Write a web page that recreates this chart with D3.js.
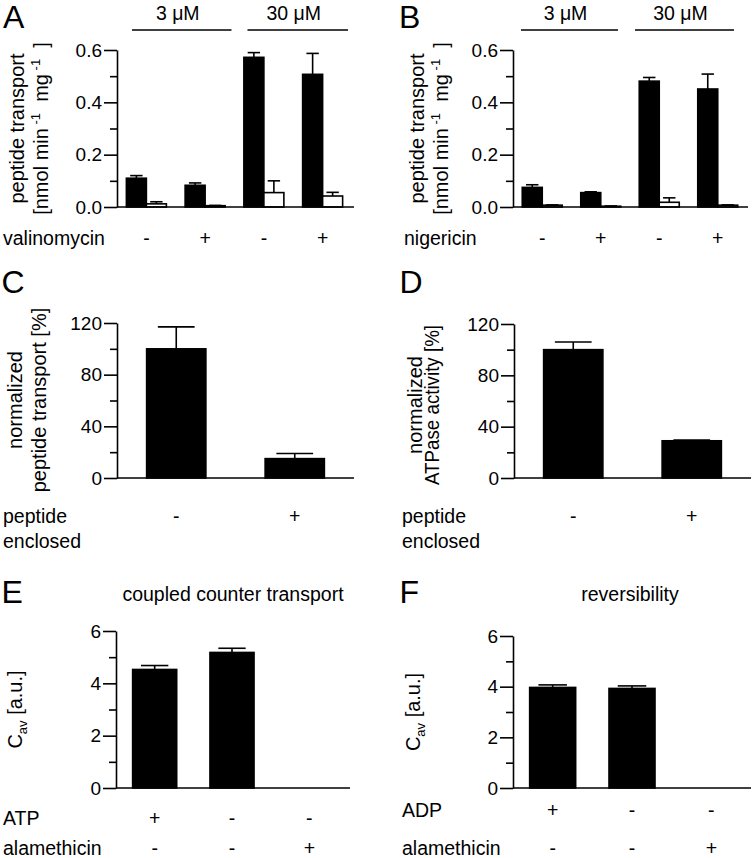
<!DOCTYPE html>
<html><head><meta charset="utf-8">
<script src="https://cdn.jsdelivr.net/npm/d3@7"></script>
<style>
body{margin:0;background:#fff}
svg{display:block}
text{font-family:"Liberation Sans",Arial,Helvetica,sans-serif;fill:#000;white-space:pre}
</style>
</head><body>
<svg id="chart" width="754" height="858"></svg>
<script>
// ---------------- DATA ----------------
const groupsAB = ["3 μM -", "3 μM +", "30 μM -", "30 μM +"];
const signsAB = ["-", "+", "-", "+"];
const concLabels = ["3 μM", "30 μM"];
const valA_black = [0.110, 0.083, 0.572, 0.507];
const errA_black = [0.010, 0.009, 0.018, 0.080];
const valA_white = [0.012, 0.005, 0.055, 0.042];
const errA_white = [0.008, 0.001, 0.045, 0.014];
const valB_black = [0.075, 0.055, 0.481, 0.451];
const errB_black = [0.010, 0.003, 0.014, 0.057];
const valB_white = [0.007, 0.003, 0.018, 0.007];
const errB_white = [0.001, 0.001, 0.017, 0.001];
const ticksAB = [0, 0.2, 0.4, 0.6];
const minorAB = [0.1, 0.3, 0.5];

const catsCD = ["-", "+"];
const valC = [100, 15];
const errC = [17, 4];
const valD = [100, 29];
const errD = [6, 0.5];
const ticksCD = [0, 40, 80, 120];
const minorCD = [20, 60, 100];

const catsEF = ["c1", "c2", "c3"];
const row1E = ["+", "-", "-"];
const row1F = ["+", "-", "-"];
const row2EF = ["-", "-", "+"];
const valE = [4.53, 5.18, 0];
const errE = [0.15, 0.16, 0];
const valF = [3.97, 3.93, 0];
const errF = [0.10, 0.10, 0];
const ticksEF = [0, 2, 4, 6];
const minorEF = [1, 3, 5];

// ---------------- DRAWING ----------------
const svg = d3.select("#chart");
const SW = 1.6;
const TICKFONT = 19;

function txt(g, x, y, s, size, anchor) {
  return g.append("text").attr("x", x).attr("y", y).attr("font-size", size)
    .attr("text-anchor", anchor || "start").text(s);
}

function yAxis(y, x0, major, minor, fmt) {
  const g = svg.append("g").attr("transform", `translate(${x0},0)`);
  g.call(d3.axisLeft(y).tickValues(major).tickSize(13).tickPadding(2).tickSizeOuter(0).tickFormat(fmt));
  g.attr("font-family", null).attr("font-size", null);
  g.selectAll("text").attr("font-size", TICKFONT).attr("fill", "#000");
  g.selectAll("path,line").attr("stroke", "#000").attr("stroke-width", SW);
  const m = svg.append("g").attr("transform", `translate(${x0},0)`);
  m.call(d3.axisLeft(y).tickValues(minor).tickSize(7).tickSizeOuter(0).tickFormat(""));
  m.select(".domain").remove();
  m.selectAll("line").attr("stroke", "#000").attr("stroke-width", SW);
}

function baseline(y, x0, x1) {
  svg.append("line").attr("x1", x0).attr("x2", x1).attr("y1", y(0)).attr("y2", y(0))
    .attr("stroke", "#000").attr("stroke-width", SW);
}

function bar(y, xl, w, v, e, fill) {
  if (v <= 0) return;
  const g = svg.append("g");
  g.append("rect").attr("x", xl).attr("y", y(v)).attr("width", w).attr("height", y(0) - y(v))
    .attr("fill", fill).attr("stroke", "#000").attr("stroke-width", SW);
  if (e > 0) {
    const cx = xl + w / 2, cw = w * 0.62;
    g.append("line").attr("x1", cx).attr("x2", cx).attr("y1", y(v)).attr("y2", y(v + e))
      .attr("stroke", "#000").attr("stroke-width", SW);
    g.append("line").attr("x1", cx - cw / 2).attr("x2", cx + cw / 2).attr("y1", y(v + e)).attr("y2", y(v + e))
      .attr("stroke", "#000").attr("stroke-width", SW);
  }
}

function rotLabel(x, cy, size, build) {
  const t = svg.append("text").attr("transform", `translate(${x},${cy}) rotate(-90)`)
    .attr("text-anchor", "middle").attr("font-size", size);
  build(t);
  return t;
}

function unitLabel(t) {
  t.append("tspan").text("[nmol min");
  t.append("tspan").attr("dy", -8).attr("font-size", 13).text(" -1");
  t.append("tspan").attr("dy", 8).text("  mg");
  t.append("tspan").attr("dy", -8).attr("font-size", 13).text(" -1");
  t.append("tspan").attr("dy", 8).text("  ]");
}

// ---- Panels A & B ----
function panelAB(cfg, black, eb, white, ew, drugName) {
  const x = d3.scaleBand().domain(groupsAB).range([cfg.x0, cfg.x1]).padding(0);
  const y = d3.scaleLinear().domain([0, 0.6]).range([cfg.yB, cfg.yT]);
  const bw = 20;
  groupsAB.forEach((gname, i) => {
    const c = x(gname) + x.bandwidth() / 2;
    bar(y, c - bw, bw, black[i], eb[i], "#000");
    bar(y, c, bw, white[i], ew[i], "#fff");
    txt(svg, c, 245, signsAB[i], 19.5, "middle");
  });
  baseline(y, cfg.x0, cfg.xEnd);
  yAxis(y, cfg.x0, ticksAB, minorAB, d3.format(".1f"));
  // concentration brackets
  concLabels.forEach((lab, k) => {
    const a = x(groupsAB[2 * k]) + cfg.br[k][0];
    const b = x(groupsAB[2 * k + 1]) + x.bandwidth() + cfg.br[k][1];
    svg.append("line").attr("x1", a).attr("x2", b).attr("y1", 30).attr("y2", 30)
      .attr("stroke", "#000").attr("stroke-width", 1.3);
    txt(svg, (a + b) / 2 - 4, 20, lab, 19.5, "middle");
  });
  txt(svg, cfg.lx, 245, drugName, 19.5);
  const cy = (cfg.yT + cfg.yB) / 2;
  rotLabel(cfg.l1, cy, 20, t => t.text("peptide transport"));
  rotLabel(cfg.l2, cy, 20, unitLabel);
  txt(svg, cfg.px, 28, cfg.letter, 32);
}

panelAB({x0: 117, x1: 352, xEnd: 354, yT: 50, yB: 207, br: [[15, -3], [13, -4]],
  lx: 3, l1: 24, l2: 48, px: 3, letter: "A"},
  valA_black, errA_black, valA_white, errA_white, "valinomycin");
panelAB({x0: 513, x1: 747, xEnd: 748, yT: 50, yB: 207, br: [[8, -12], [5, -13]],
  lx: 404, l1: 424, l2: 448, px: 399, letter: "B"},
  valB_black, errB_black, valB_white, errB_white, "nigericin");

// ---- Panels C & D ----
function panelCD(cfg, vals, errs) {
  const x = d3.scaleBand().domain(catsCD).range([cfg.x0, cfg.x1]).padding(0);
  const y = d3.scaleLinear().domain([0, 120]).range([cfg.yB, cfg.yT]);
  const bw = x.bandwidth() * 0.5;
  catsCD.forEach((c, i) => {
    const cx = x(c) + x.bandwidth() / 2;
    bar(y, cx - bw / 2, bw, vals[i], errs[i], "#000");
    txt(svg, cx, 523, c, 19.5, "middle");
  });
  baseline(y, cfg.x0, cfg.xEnd);
  yAxis(y, cfg.x0, ticksCD, minorCD, d3.format("d"));
  txt(svg, cfg.lx, 523, "peptide", 19.5);
  txt(svg, cfg.lx, 548, "enclosed", 19.5);
  const cy = cfg.cy;
  rotLabel(cfg.l1, cy, 20, t => t.text("normalized"));
  const t2 = rotLabel(cfg.l2, cy, 20, t => t.text(cfg.line2));
  if (cfg.len) t2.attr("textLength", cfg.len).attr("lengthAdjust", "spacingAndGlyphs");
  txt(svg, cfg.px, 293, cfg.letter, 32);
}

panelCD({x0: 117, x1: 354, xEnd: 354, yT: 323, yB: 478, lx: 3, l1: 22, l2: 46, cy: 400,
  line2: "peptide transport [%]", px: 1.5, letter: "C"}, valC, errC);
panelCD({x0: 514, x1: 751, xEnd: 751, yT: 324, yB: 478, lx: 402, l1: 422, l2: 439, cy: 405,
  line2: "ATPase activity [%]", len: 160, px: 399.5, letter: "D"}, valD, errD);

// ---- Panels E & F ----
function panelEF(cfg, vals, errs, row1) {
  const x = d3.scaleBand().domain(catsEF).range([cfg.x0, cfg.x1]).padding(0);
  const y = d3.scaleLinear().domain([0, 6]).range([cfg.yB, cfg.yT]);
  const bw = x.bandwidth() * cfg.frac;
  catsEF.forEach((c, i) => {
    const cx = x(c) + x.bandwidth() / 2;
    bar(y, cx - bw / 2, bw, vals[i], errs[i], "#000");
    txt(svg, cx, cfg.r1y, row1[i], 19.5, "middle");
    txt(svg, cx, 855, row2EF[i], 19.5, "middle");
  });
  baseline(y, cfg.x0, cfg.xEnd);
  yAxis(y, cfg.x0, ticksEF, minorEF, d3.format("d"));
  txt(svg, cfg.lx, cfg.r1y, cfg.row1Name, 19.5);
  txt(svg, cfg.lx, 855, "alamethicin", 19.5);
  txt(svg, cfg.tx, 601, cfg.title, 19.5, "middle");
  rotLabel(cfg.l1, (cfg.yT + cfg.yB) / 2, 20, t => {
    t.append("tspan").text("C");
    t.append("tspan").attr("dy", 5).attr("font-size", 13).text("av");
    t.append("tspan").attr("dy", -5).text(" [a.u.]");
  });
  txt(svg, cfg.px, 603, cfg.letter, 32);
}

panelEF({x0: 116, x1: 348, xEnd: 350, yT: 631, yB: 788, frac: 0.57, r1y: 825, lx: 3,
  row1Name: "ATP", tx: 233, title: "coupled counter transport", l1: 22, px: 1.5, letter: "E"},
  valE, errE, row1E);
panelEF({x0: 513, x1: 751, xEnd: 751, yT: 636, yB: 788, frac: 0.58, r1y: 817, lx: 402,
  row1Name: "ADP", tx: 630, title: "reversibility", l1: 420, px: 399.5, letter: "F"},
  valF, errF, row1F);
</script>
</body></html>
